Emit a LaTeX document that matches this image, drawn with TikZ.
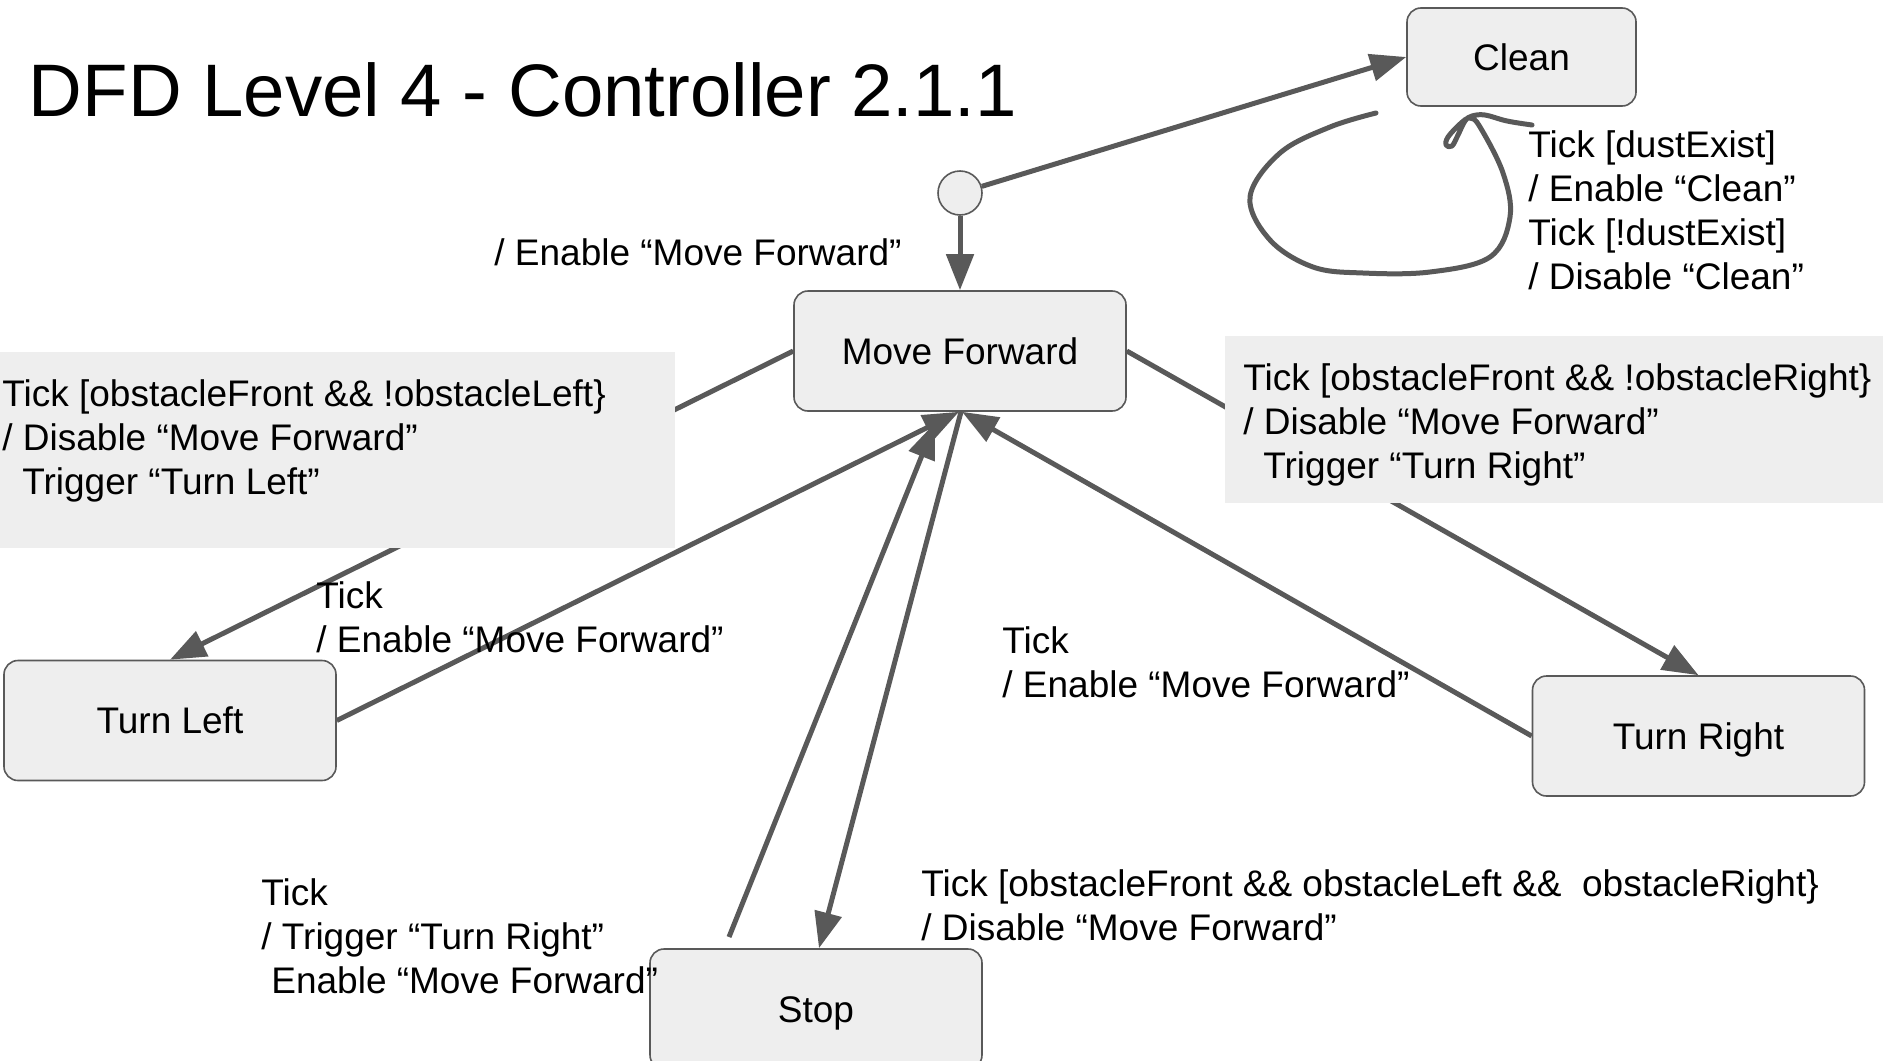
\documentclass[tikz,border=0pt]{standalone}
\usepackage{fontspec}
\setmainfont{Liberation Sans}
\usetikzlibrary{arrows.meta}
\definecolor{linegray}{HTML}{595959}
\definecolor{boxgray}{HTML}{EEEEEE}
\tikzset{
  state/.style={draw=linegray, fill=boxgray, line width=0.8pt, rounded corners=7pt,
    minimum width=166pt, minimum height=60pt, inner sep=0pt,
    text height=13.3pt, text depth=0pt,
    font=\fontsize{18.5pt}{22pt}\selectfont},
  trans/.style={draw=linegray, line width=2.5pt, -{Triangle[length=18pt,width=13.5pt]}},
  lbl/.style={anchor=base west, align=left, inner sep=0pt,
    font=\fontsize{18.5pt}{22pt}\selectfont},
}
\begin{document}
\begin{tikzpicture}[x=0.5pt, y=-0.5pt]
    \useasboundingbox (0,0) rectangle (1883,1060);

    % Titulo
    \node[anchor=base west, inner sep=0pt, font=\fontsize{37.2pt}{44pt}\selectfont]
      (title) at (28.5,116) {DFD Level 4 - Controller 2.1.1};

    % Estados
    \node[state, minimum width=114.5pt, minimum height=49pt] (clean) at (1521.5,57) {Clean};
    \node[state] (mf) at (960,351) {Move Forward};
    \node[state] (tl) at (170,720.5) {Turn Left};
    \node[state] (tr) at (1698.5,736) {Turn Right};
    \node[state] (stop) at (816,1009) {Stop};
    \node[circle, draw=linegray, fill=boxgray, line width=0.8pt, minimum size=22pt,
      inner sep=0pt] (init) at (960,193) {};

    % Transiciones
    \draw[trans] (init) -- (clean.west);
    \draw[trans] (init) -- (mf);
    \draw[trans] (mf.west) -- (tl.north);
    \draw[trans] (mf.east) -- (tr.north);
    \draw[trans] (tl.east) -- ([xshift=-0.5pt]mf.south);
    \draw[trans] (tr.west) -- ([xshift=1pt]mf.south);
    \draw[trans] ([xshift=0.5pt]mf.south) -- ([xshift=1.5pt]stop.north);
    \coordinate (stopout) at (729,937);
    \draw[trans] (stopout) -- ([xshift=-12.5pt,yshift=-5.5pt]mf.south);

    % Lazo de Clean
    \draw[linegray, line width=2.5pt, line cap=round, line join=round]
      plot[smooth, tension=0.6] coordinates {(1376,113) (1330,127) (1280,153) (1250,197)
        (1270,240) (1313,267) (1363,273) (1430,272) (1490,257) (1510,217) (1503,173)
        (1480,127) (1470,118) (1460,124) (1448,137) (1446,145) (1452,146) (1458,135)
        (1465,121) (1472,116) (1485,115) (1507,121) (1532,125)};

    % Fondos de etiquetas
    \fill[boxgray] (0,352) rectangle (675,548);
    \fill[boxgray] (1225,336) rectangle (1883,503);

    % Etiquetas (base = ultima linea)
    \node[lbl] (cleanlbl) at (1528,289) {Tick [dustExist]\\/ Enable “Clean”\\Tick [!dustExist]\\/ Disable “Clean”};
    \node[lbl] (initlbl) at (494,265) {/ Enable “Move Forward”};
    \node[lbl] (tllbl) at (2,494) {Tick [obstacleFront \&\& !obstacleLeft\}\\/ Disable “Move Forward”\\\hspace*{10pt}Trigger “Turn Left”};
    \node[lbl] (trlbl) at (1243,478) {Tick [obstacleFront \&\& !obstacleRight\}\\/ Disable “Move Forward”\\\hspace*{10pt}Trigger “Turn Right”};
    \node[lbl] (tlbacklbl) at (316,652) {Tick\\/ Enable “Move Forward”};
    \node[lbl] (trbacklbl) at (1002,697) {Tick\\/ Enable “Move Forward”};
    \node[lbl] (stopbacklbl) at (261,993) {Tick\\/ Trigger “Turn Right”\\\hspace*{5pt}Enable “Move Forward”};
    \node[lbl] (stoplbl) at (921,940) {Tick [obstacleFront \&\& obstacleLeft \&\&\ \ obstacleRight\}\\/ Disable “Move Forward”};
\end{tikzpicture}
\end{document}
